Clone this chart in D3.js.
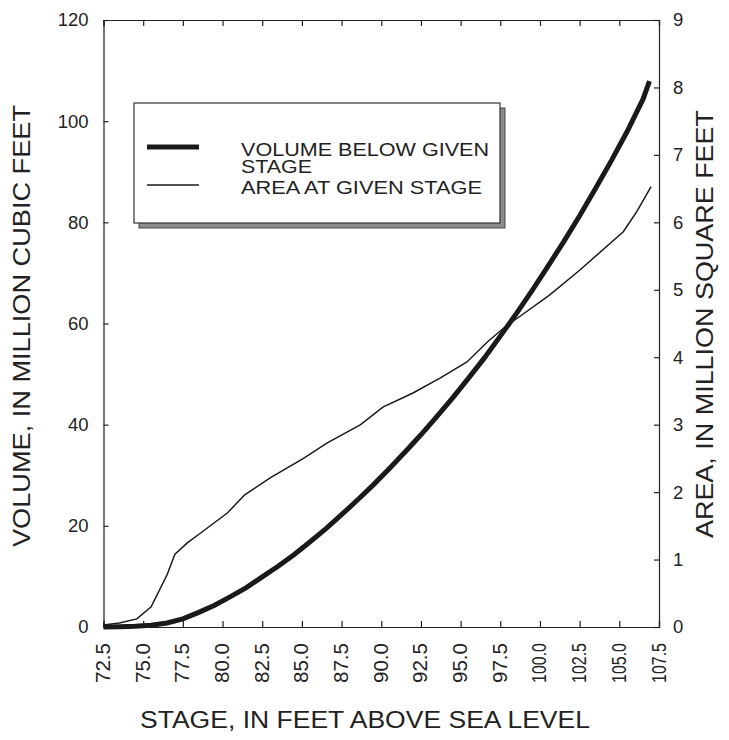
<!DOCTYPE html>
<html>
<head>
<meta charset="utf-8">
<script src="https://cdn.jsdelivr.net/npm/d3@7"></script>
<style>
  body { margin: 0; background: #fff; }
  text { font-family: "Liberation Sans", Arial, sans-serif; fill: #222; }
</style>
</head>
<body>
<div id="chart"></div>
<script>
// ==============================
// DATOS
// ==============================

// volumen bajo el nivel dado (millones de pies cúbicos)
const volStage = [72.5, 73.5, 74.5, 75.5, 76.5, 77.5, 78.5, 79.5, 80.5, 81.5, 82.5, 83.5, 84.5, 85.5,
  86.5, 87.5, 88.5, 89.5, 90.5, 91.5, 92.5, 93.5, 94.5, 95.5, 96.5, 97.5, 98.5, 99.5, 100.5,
  101.5, 102.5, 103.5, 104.5, 105.5, 106.5, 106.9];
const volume = [0, 0.05, 0.15, 0.35, 0.8, 1.6, 2.9, 4.3, 6.0, 7.8, 9.9, 12.0, 14.3, 16.8,
  19.4, 22.2, 25.1, 28.1, 31.3, 34.6, 38.0, 41.6, 45.3, 49.2, 53.2, 57.5, 61.9, 66.5, 71.3,
  76.2, 81.3, 86.7, 92.2, 98.0, 104.4, 107.9];

// área al nivel dado (millones de pies cuadrados)
const areaStage = [72.5, 73.5, 74.6, 75.5, 76.5, 77.0, 77.8, 78.6, 80.3, 81.4, 83.0, 85.1, 86.6,
  88.7, 90.1, 92.0, 93.7, 95.4, 96.7, 97.7, 98.7, 100.6, 102.5, 105.25, 106.1, 107.0];
const area = [0.03, 0.06, 0.12, 0.3, 0.77, 1.08, 1.25, 1.39, 1.69, 1.96, 2.21, 2.5, 2.73,
  3.0, 3.26, 3.47, 3.69, 3.93, 4.23, 4.43, 4.6, 4.92, 5.29, 5.86, 6.16, 6.53];

const xTicks = [72.5, 75, 77.5, 80, 82.5, 85, 87.5, 90, 92.5, 95, 97.5, 100, 102.5, 105, 107.5];
const yLeftTicks = [0, 20, 40, 60, 80, 100, 120];
const yRightTicks = [0, 1, 2, 3, 4, 5, 6, 7, 8, 9];

// ==============================
// SVG Y ESCALAS
// ==============================

const W = 729, H = 740;
const M = { left: 103.5, right: 70, top: 20, bottom: 113 };

const svg = d3.select("#chart").append("svg")
  .attr("width", W)
  .attr("height", H);

const x = d3.scaleLinear().domain([72.5, 107.5]).range([M.left, W - M.right]);
const yL = d3.scaleLinear().domain([0, 120]).range([H - M.bottom, M.top]);
const yR = d3.scaleLinear().domain([0, 9]).range([H - M.bottom, M.top]);

const fmtX = d3.format(".1f");

// ejes (marcas hacia dentro)
const gx = svg.append("g")
  .attr("transform", `translate(0,${H - M.bottom})`)
  .call(d3.axisBottom(x).tickValues(xTicks).tickSize(-6).tickPadding(0).tickFormat(fmtX));
gx.selectAll(".tick text").remove();
gx.selectAll(".tick").append("text")
  .attr("transform", "translate(6,16) rotate(-90)")
  .attr("text-anchor", "end")
  .attr("font-size", "19.5px")
  .attr("textLength", 40)
  .attr("lengthAdjust", "spacingAndGlyphs")
  .text(d => fmtX(d));

svg.append("g")
  .attr("transform", `translate(0,${M.top})`)
  .call(d3.axisTop(x).tickValues(xTicks).tickSize(-6).tickFormat(""));

svg.append("g")
  .attr("transform", `translate(${M.left},0)`)
  .call(d3.axisLeft(yL).tickValues(yLeftTicks).tickSize(-5).tickPadding(15))
  .selectAll("text").attr("font-size", "18.5px");

svg.append("g")
  .attr("transform", `translate(${W - M.right},0)`)
  .call(d3.axisRight(yR).tickValues(yRightTicks).tickSize(-5).tickPadding(14))
  .selectAll("text").attr("font-size", "18.5px");

svg.selectAll(".domain").attr("stroke", "#222").attr("stroke-width", 1.2);
svg.selectAll(".tick line").attr("stroke", "#222").attr("stroke-width", 1.2);
svg.selectAll(".tick text").attr("fill", "#222").attr("font-family", "'Liberation Sans', Arial, sans-serif");

// ==============================
// LÍNEAS
// ==============================

const lineVol = d3.line().x(d => x(d[0])).y(d => yL(d[1]));
const lineArea = d3.line().x(d => x(d[0])).y(d => yR(d[1]));

svg.append("path")
  .datum(d3.zip(areaStage, area))
  .attr("d", lineArea)
  .attr("fill", "none")
  .attr("stroke", "#1a1a1a")
  .attr("stroke-width", 1.5);

svg.append("path")
  .datum(d3.zip(volStage, volume))
  .attr("d", lineVol)
  .attr("fill", "none")
  .attr("stroke", "#1a1a1a")
  .attr("stroke-width", 5);

// ==============================
// TÍTULOS DE EJES
// ==============================

function titulo(texto, transform, largo) {
  svg.append("text")
    .attr("transform", transform)
    .attr("text-anchor", "middle")
    .attr("font-size", "23.5px")
    .attr("textLength", largo)
    .attr("lengthAdjust", "spacingAndGlyphs")
    .text(texto);
}

titulo("STAGE, IN FEET ABOVE SEA LEVEL", "translate(365,728)", 450);
titulo("VOLUME, IN MILLION CUBIC FEET", "translate(30,326) rotate(-90)", 442);
titulo("AREA, IN MILLION SQUARE FEET", "translate(713,324) rotate(-90)", 428);

// ==============================
// LEYENDA
// ==============================

const lg = svg.append("g").attr("transform", "translate(134,103)");
lg.append("rect")
  .attr("x", 5).attr("y", 5).attr("width", 366).attr("height", 120)
  .attr("fill", "#8c8c8c").attr("stroke", "#444").attr("stroke-width", 1);
lg.append("rect")
  .attr("x", 0).attr("y", 0).attr("width", 366).attr("height", 120)
  .attr("fill", "#fff").attr("stroke", "#333").attr("stroke-width", 1.2);

lg.append("line").attr("x1", 13).attr("x2", 65).attr("y1", 44).attr("y2", 44)
  .attr("stroke", "#1a1a1a").attr("stroke-width", 5);
lg.append("line").attr("x1", 13).attr("x2", 65).attr("y1", 82).attr("y2", 82)
  .attr("stroke", "#1a1a1a").attr("stroke-width", 1.3);

const legendText = [["VOLUME BELOW GIVEN", 53, 248], ["STAGE", 70, 71], ["AREA AT GIVEN STAGE", 91, 241]];
lg.selectAll("text.leg")
  .data(legendText)
  .join("text")
  .attr("class", "leg")
  .attr("x", 107)
  .attr("y", d => d[1])
  .attr("font-size", "17.5px")
  .attr("textLength", d => d[2])
  .attr("lengthAdjust", "spacingAndGlyphs")
  .text(d => d[0]);
</script>
</body>
</html>
